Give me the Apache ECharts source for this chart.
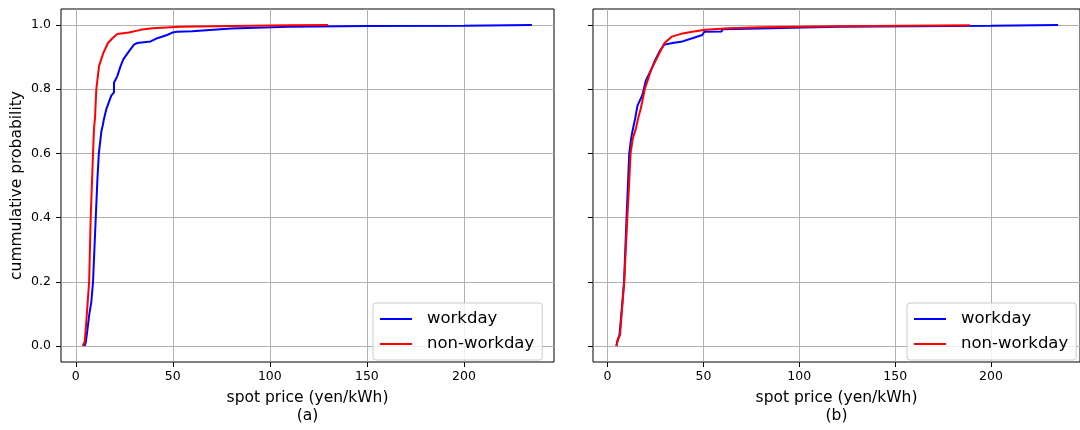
<!DOCTYPE html>
<html>
<head>
<meta charset="utf-8">
<script src="https://cdn.jsdelivr.net/npm/echarts@6/dist/echarts.min.js"></script>
<style>
  html, body { margin: 0; padding: 0; background: #ffffff; }
  #chart { width: 1080px; height: 430px; }
</style>
</head>
<body>
<div id="chart"></div>
<script>
// Empirical CDFs of spot price, (a) and (b) panels
const seriesNames = ['workday', 'non-workday'];

// (a) workday
const priceA_work = [4.6, 5.2, 6.0, 7.0, 8.0, 8.9, 9.6, 10.3, 11.2, 11.9, 13.2, 14.0, 14.6, 15.8, 18.3, 19.7, 19.7, 21.4, 23.1, 24.5, 27.4, 30.0, 31.7, 38.6, 42.0, 47.1, 50.0, 52.0, 60.0, 60.0, 80.0, 80.0, 110.0, 150.0, 200.0, 235.0];
const probA_work  = [0.0, 0.013, 0.05, 0.1, 0.136, 0.2, 0.3, 0.4, 0.525, 0.6, 0.668, 0.69, 0.709, 0.739, 0.78, 0.79, 0.82, 0.841, 0.872, 0.893, 0.918, 0.939, 0.944, 0.949, 0.959, 0.969, 0.977, 0.979, 0.981, 0.987, 0.989, 0.992, 0.995, 0.997, 0.998, 1.0];

// (a) non-workday
const priceA_off = [3.6, 4.6, 5.3, 6.3, 6.9, 7.7, 8.3, 8.9, 9.4, 9.9, 10.6, 12.0, 14.2, 16.6, 18.9, 21.4, 27.4, 33.4, 39.4, 54.0, 80.0, 110.0, 130.0];
const probA_off  = [0.0, 0.013, 0.064, 0.15, 0.2, 0.4, 0.5, 0.6, 0.678, 0.709, 0.8, 0.872, 0.913, 0.944, 0.959, 0.972, 0.977, 0.985, 0.99, 0.995, 0.997, 0.999, 1.0];

// (b) workday
const priceB_work = [4.6, 5.3, 6.2, 7.5, 8.6, 9.9, 10.6, 11.3, 12.3, 13.0, 14.4, 15.6, 18.0, 18.9, 19.9, 22.8, 25.0, 27.6, 29.7, 33.9, 39.1, 44.2, 49.4, 50.5, 59.6, 59.6, 79.0, 80.0, 120.0, 200.0, 235.0];
const probB_work  = [0.0, 0.02, 0.034, 0.12, 0.2, 0.4, 0.5, 0.6, 0.647, 0.67, 0.709, 0.749, 0.78, 0.8, 0.826, 0.862, 0.893, 0.923, 0.939, 0.944, 0.949, 0.959, 0.969, 0.979, 0.980, 0.987, 0.989, 0.992, 0.995, 0.998, 1.0];

// (b) non-workday
const priceB_off = [4.6, 5.4, 6.5, 7.6, 8.7, 10.3, 11.2, 12.0, 13.2, 14.8, 15.9, 17.3, 19.4, 22.8, 25.4, 27.9, 29.7, 33.6, 39.1, 44.2, 51.1, 63.0, 80.0, 120.0, 189.0];
const probB_off  = [0.0, 0.02, 0.034, 0.12, 0.2, 0.4, 0.5, 0.6, 0.647, 0.678, 0.709, 0.739, 0.8, 0.862, 0.893, 0.923, 0.944, 0.964, 0.974, 0.979, 0.985, 0.99, 0.993, 0.996, 0.999];

// axis ticks
const xTicks = [0, 50, 100, 150, 200];
const yTicks = [0.0, 0.2, 0.4, 0.6, 0.8, 1.0];
const panelLabels = ['(a)', '(b)'];

const FONT = 'DejaVu Sans';
const pairs = (xs, ys) => xs.map((x, i) => [x, ys[i]]);

function xAxisFor(idx) {
  return {
    type: 'value', gridIndex: idx, min: -7.6, max: 246.4,
    name: 'spot price (yen/kWh)\n' + panelLabels[idx],
    nameLocation: 'middle', nameGap: 27,
    nameTextStyle: { fontFamily: FONT, fontSize: 15.5, color: '#000', lineHeight: 18 },
    axisLine: { show: false, onZero: false },
    axisTick: { show: true, length: 5, customValues: xTicks, lineStyle: { color: '#000', width: 1 } },
    axisLabel: { customValues: xTicks, margin: 8, fontFamily: FONT, fontSize: 12.5, color: '#000' },
    splitLine: { show: true, lineStyle: { color: '#b0b0b0', width: 1 } }
  };
}
function yAxisFor(idx) {
  const ax = {
    type: 'value', gridIndex: idx, min: -0.05, max: 1.05,
    axisLine: { show: false, onZero: false },
    axisTick: { show: true, length: 5, customValues: yTicks, lineStyle: { color: '#000', width: 1 } },
    axisLabel: { show: idx === 0, customValues: yTicks, margin: 10, fontFamily: FONT, fontSize: 12.5, color: '#000',
                 formatter: v => v.toFixed(1) },
    splitLine: { show: true, lineStyle: { color: '#b0b0b0', width: 1 } }
  };
  if (idx === 0) {
    ax.name = 'cummulative probability';
    ax.nameLocation = 'middle';
    ax.nameGap = 36;
    ax.nameTextStyle = { fontFamily: FONT, fontSize: 15.5, color: '#000' };
  }
  return ax;
}
function legendFor(left) {
  return {
    data: seriesNames, orient: 'vertical', left: left, top: 303,
    icon: 'rect', itemWidth: 32, itemHeight: 2, itemGap: 5,
    padding: [6, 8, 6, 7],
    backgroundColor: 'rgba(255,255,255,0.8)', borderColor: '#cccccc', borderWidth: 1, borderRadius: 3,
    textStyle: { fontFamily: FONT, fontSize: 16.5, color: '#000', lineHeight: 20, padding: [0, 0, 0, 10] }
  };
}
function lineSeries(name, idx, color, data) {
  return {
    name: name, type: 'line', xAxisIndex: idx, yAxisIndex: idx,
    data: data, showSymbol: false, symbol: 'none', clip: true,
    color: color, lineStyle: { color: color, width: 2 }
  };
}

const chart = echarts.init(document.getElementById('chart'), null, { renderer: 'canvas' });
chart.setOption({
  animation: false,
  backgroundColor: '#ffffff',
  grid: [
    { left: 61, top: 9, width: 493, height: 358, show: true, borderColor: '#000', borderWidth: 1, backgroundColor: 'transparent' },
    { left: 593, top: 9, width: 493, height: 358, show: true, borderColor: '#000', borderWidth: 1, backgroundColor: 'transparent' }
  ],
  xAxis: [xAxisFor(0), xAxisFor(1)],
  yAxis: [yAxisFor(0), yAxisFor(1)],
  legend: [legendFor(373), legendFor(907)],
  series: [
    lineSeries('workday', 0, '#0000ff', pairs(priceA_work, probA_work)),
    lineSeries('non-workday', 0, '#ff0000', pairs(priceA_off, probA_off)),
    lineSeries('workday', 1, '#0000ff', pairs(priceB_work, probB_work)),
    lineSeries('non-workday', 1, '#ff0000', pairs(priceB_off, probB_off))
  ]
});
</script>
</body>
</html>
